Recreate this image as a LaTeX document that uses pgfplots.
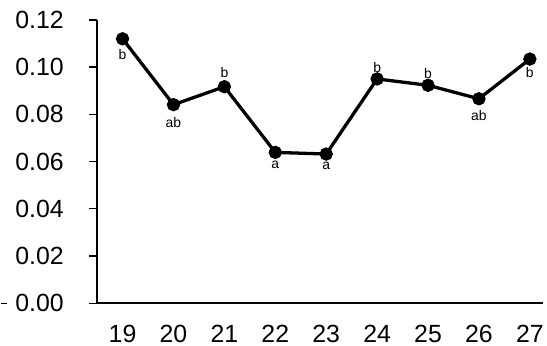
\documentclass[border=0pt]{standalone}
\usepackage{fontspec}
\setmainfont{Liberation Sans}
\usepackage{pgfplots}
\pgfplotsset{compat=1.18}
\begin{document}
\begin{tikzpicture}
\begin{axis}[
  at={(0,0)}, anchor=south west,
  scale only axis, width=448pt, height=285pt,
  xmin=18.5, xmax=27.25, ymin=0, ymax=0.12,
  axis lines=left,
  axis line style={-, line width=1.6pt},
  xtick={19,...,27},
  x tick style={draw=none},
  ytick={0,0.02,0.04,0.06,0.08,0.1,0.12},
  y tick style={line width=1.3pt, black},
  tick align=outside, major tick length=8pt,
  yticklabel style={xshift=-22pt, /pgf/number format/fixed, /pgf/number format/fixed zerofill, /pgf/number format/precision=2},
  xticklabel style={yshift=-10pt},
  /pgf/number format/assume math mode=true,
  tick label style={font=\fontsize{25}{30}\selectfont},
  clip=false,
]
\addplot[black, line width=3.3pt, mark=*, mark size=5pt] coordinates {
  (19,0.1120) (20,0.0841) (21,0.0917) (22,0.0639) (23,0.0632)
  (24,0.0950) (25,0.0923) (26,0.0866) (27,0.1034)
};
\tikzset{lab/.style={font=\fontsize{14}{17}\selectfont, inner sep=0pt}}
\node[lab, below=10pt] at (axis cs:19,0.1120) {b};
\node[lab, below=13pt] at (axis cs:20,0.0841) {ab};
\node[lab, above=9pt] at (axis cs:21,0.0917) {b};
\node[lab, below=8pt] at (axis cs:22,0.0639) {a};
\node[lab, below=8pt] at (axis cs:23,0.0632) {a};
\node[lab, above=6pt] at (axis cs:24,0.0950) {b};
\node[lab, above=7pt] at (axis cs:25,0.0923) {b};
\node[lab, below=12pt] at (axis cs:26,0.0866) {ab};
\node[lab, below=8pt] at (axis cs:27,0.1034) {b};
\end{axis}
\draw[line width=1.3pt] (-97pt,0) -- (-91pt,0);
\path[use as bounding box] (-97pt,-42pt) rectangle (450pt,305pt);
\end{tikzpicture}
\end{document}
